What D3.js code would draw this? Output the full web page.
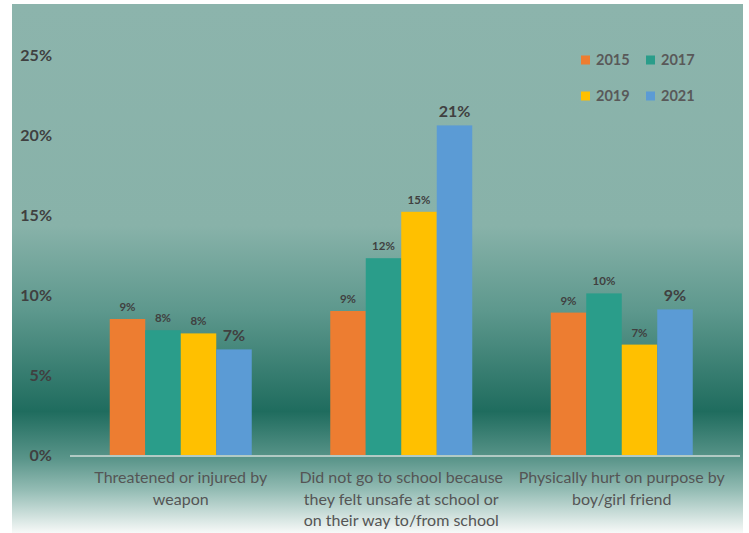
<!DOCTYPE html>
<html>
<head>
<meta charset="utf-8">
<script src="https://cdn.jsdelivr.net/npm/d3@7"></script>
<style>
  body { margin: 0; background: #fff; }
  svg { display: block; font-family: Lato, "Open Sans", sans-serif; }
</style>
</head>
<body>
<div id="chart"></div>
<script>
// chart values
const categories = [
  ['Threatened or injured by', 'weapon'],
  ['Did not go to school because', 'they felt unsafe at school or', 'on their way to/from school'],
  ['Physically hurt on purpose by', 'boy/girl friend']
];
const years = ['2015', '2017', '2019', '2021'];
const values = [
  [8.5, 7.8, 7.6, 6.6],
  [9.0, 12.3, 15.2, 20.6],
  [8.9, 10.1, 6.9, 9.1]
];
const labels = [
  ['9%', '8%', '8%', '7%'],
  ['9%', '12%', '15%', '21%'],
  ['9%', '10%', '7%', '9%']
];
const yTicks = [0, 5, 10, 15, 20, 25];
const colors = ['#ed7d31', '#2a9d8a', '#ffc000', '#5b9bd5'];

const width = 749, height = 533;
const svg = d3.select('#chart').append('svg')
  .attr('width', width).attr('height', height);

// background gradient
const grad = svg.append('defs').append('linearGradient')
  .attr('id', 'bg').attr('x1', 0).attr('y1', 0).attr('x2', 0).attr('y2', 1);
[[0, '#8cb4ac'], [0.42, '#88b2a9'], [0.58, '#5d988d'], [0.77, '#1f6c5e'], [0.86, '#5a958a'], [0.92, '#95bdb5'], [1, '#f7f9f8']]
  .forEach(([o, c]) => grad.append('stop').attr('offset', o).attr('stop-color', c));

svg.append('rect')
  .attr('x', 12).attr('y', 4).attr('width', 731).attr('height', 529)
  .attr('fill', 'url(#bg)');

const x0 = d3.scaleBand()
  .domain(d3.range(categories.length))
  .range([70.5, 732])
  .paddingInner(0.356)
  .paddingOuter(0.178);
const x1 = d3.scaleBand().domain(years).range([0, x0.bandwidth()]);
const y = d3.scaleLinear().domain([0, 25]).range([455, 55]);

// y axis labels
svg.append('g').selectAll('text').data(yTicks).join('text')
  .attr('x', 52).attr('y', d => y(d)).attr('dy', '0.35em')
  .attr('text-anchor', 'end')
  .attr('font-size', 16).attr('font-weight', 'bold').attr('fill', '#404040')
  .text(d => d + '%');

// baseline
svg.append('line')
  .attr('x1', 70).attr('x2', 740).attr('y1', y(0) + 1).attr('y2', y(0) + 1)
  .attr('stroke', '#d0dcd9').attr('stroke-width', 1.5);

const groups = svg.append('g').selectAll('g').data(values).join('g')
  .attr('transform', (d, i) => `translate(${x0(i)},0)`);

groups.selectAll('rect').data(d => d).join('rect')
  .attr('x', (d, j) => x1(years[j]))
  .attr('y', d => y(d))
  .attr('width', x1.bandwidth())
  .attr('height', d => y(0) - y(d))
  .attr('fill', (d, j) => colors[j]);

groups.selectAll('text').data((d, i) => d.map((v, j) => ({ v, j, t: labels[i][j] }))).join('text')
  .attr('x', d => x1(years[d.j]) + x1.bandwidth() / 2)
  .attr('y', d => y(d.v) - 8)
  .attr('text-anchor', 'middle')
  .attr('font-size', d => d.j === 3 ? 16 : 11.5)
  .attr('font-weight', 'bold')
  .attr('fill', '#404040')
  .text(d => d.t);

// category labels
const xl = svg.append('g').selectAll('text').data(categories).join('text')
  .attr('x', (d, i) => x0(i) + x0.bandwidth() / 2)
  .attr('y', 483)
  .attr('text-anchor', 'middle')
  .attr('font-size', 16).attr('fill', '#555555');
xl.selectAll('tspan').data(d => d).join('tspan')
  .attr('x', function () { return this.parentNode.getAttribute('x'); })
  .attr('dy', (d, k) => k === 0 ? 0 : 21.5)
  .text(d => d);

// legend
const legend = svg.append('g').selectAll('g').data(years).join('g')
  .attr('transform', (d, i) => `translate(${581 + (i % 2) * 65},${60 + Math.floor(i / 2) * 36})`);
legend.append('rect')
  .attr('x', 0).attr('y', -4.5).attr('width', 9).attr('height', 9)
  .attr('fill', (d, i) => colors[i]);
legend.append('text')
  .attr('x', 15).attr('dy', '0.36em')
  .attr('font-size', 14.5).attr('font-weight', 'bold').attr('fill', '#595959')
  .text(d => d);
</script>
</body>
</html>
